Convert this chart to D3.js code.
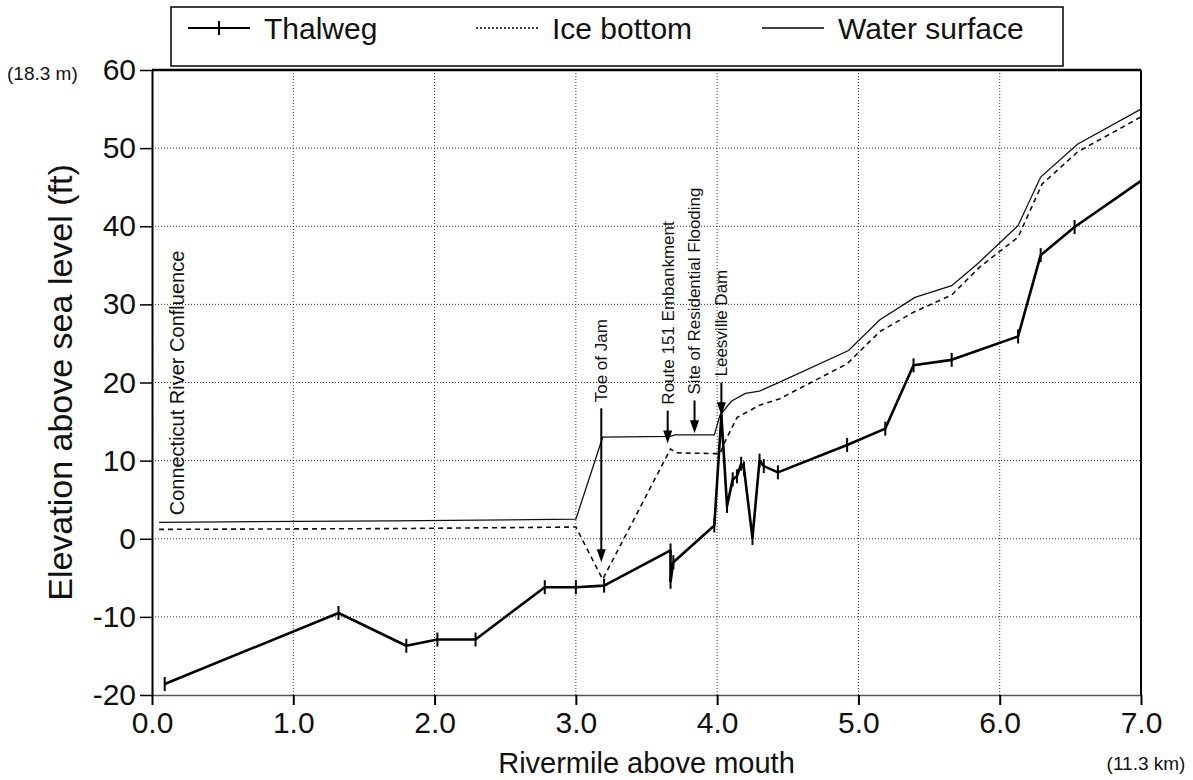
<!DOCTYPE html>
<html>
<head>
<meta charset="utf-8">
<script src="https://cdn.jsdelivr.net/npm/d3@7"></script>
<style>
  body { margin: 0; background: #fff; }
  svg text { font-family: "Liberation Sans", Arial, sans-serif; fill: #111; }
</style>
</head>
<body>
<div id="myDataVis"><svg></svg></div>
<script>
// ---- data (rivermile, elevation ft) ----
const thalwegMile = [0.09, 1.32, 1.80, 2.02, 2.29, 2.78, 3.00, 3.20, 3.67, 3.67, 3.69, 3.98, 4.03, 4.07, 4.11, 4.14, 4.17, 4.19, 4.25, 4.30, 4.33, 4.43, 4.92, 5.19, 5.39, 5.66, 6.13, 6.29, 6.53, 7.00];
const thalwegFt   = [-18.6, -9.5, -13.7, -12.9, -12.9, -6.2, -6.2, -6.0, -1.5, -5.5, -3.0, 1.7, 15.8, 4.2, 7.6, 8.0, 9.6, 9.0, 0.1, 10.0, 9.3, 8.5, 12.0, 14.1, 22.2, 22.9, 25.9, 36.3, 39.9, 45.8];

const iceMile = [0.05, 1.70, 3.00, 3.19, 3.67, 3.71, 3.98, 4.02, 4.06, 4.14, 4.30, 4.44, 4.92, 5.15, 5.39, 5.66, 5.86, 6.13, 6.30, 6.55, 7.00];
const iceFt   = [1.2, 1.3, 1.5, -5.2, 11.5, 11.0, 10.9, 10.9, 12.6, 15.5, 17.1, 17.9, 22.4, 26.5, 29.0, 31.2, 34.8, 38.6, 45.4, 49.5, 54.0];

const waterMile = [0.05, 1.70, 3.00, 3.19, 3.67, 3.70, 3.98, 4.02, 4.10, 4.20, 4.30, 4.45, 4.93, 5.15, 5.40, 5.66, 5.85, 6.13, 6.29, 6.55, 7.00];
const waterFt   = [2.1, 2.3, 2.5, 13.0, 13.1, 13.3, 13.3, 15.8, 17.6, 18.6, 18.9, 20.1, 24.1, 28.0, 30.9, 32.4, 35.3, 40.1, 46.3, 50.5, 55.0];

const xTicks = [0, 1, 2, 3, 4, 5, 6, 7];
const yTicks = [-20, -10, 0, 10, 20, 30, 40, 50, 60];

// annotations: label, rivermile, arrow tip elevation, arrow tail elevation
const noteLabels = ['Toe of Jam', 'Route 151 Embankment', 'Site of Residential Flooding', 'Leesville Dam'];
const noteMile   = [3.18, 3.65, 3.84, 4.03];
const noteTipFt  = [-3.0, 12.2, 13.5, 15.8];
const noteTailFt = [16.7, 16.4, 17.7, 20.0];

const legendLabels = ['Thalweg', 'Ice bottom', 'Water surface'];

// ---- layout ----
const margin = {top: 70, right: 52, bottom: 85, left: 152};
const width = 1193 - margin.left - margin.right;
const height = 780 - margin.top - margin.bottom;

const svgRoot = d3.select('#myDataVis').select('svg')
    .attr('width', 1193)
    .attr('height', 780);

const svg = svgRoot.append('g')
    .attr('transform', `translate(${margin.left},${margin.top})`);

const x = d3.scaleLinear().domain([0, 7]).range([0, width]);
const y = d3.scaleLinear().domain([-20, 60]).range([height, 0]);

// grid
svg.append('g').selectAll('line')
    .data(xTicks.slice(1, -1))
    .join('line')
    .attr('x1', d => x(d)).attr('x2', d => x(d))
    .attr('y1', 0).attr('y2', height)
    .attr('stroke', '#333').attr('stroke-width', 1)
    .attr('stroke-dasharray', '1,2');

svg.append('g').selectAll('line')
    .data(yTicks.slice(1, -1))
    .join('line')
    .attr('x1', 0).attr('x2', width)
    .attr('y1', d => y(d)).attr('y2', d => y(d))
    .attr('stroke', '#333').attr('stroke-width', 1)
    .attr('stroke-dasharray', '1,2');

// axes
const xAxis = svg.append('g')
    .attr('transform', `translate(0,${height})`)
    .call(d3.axisBottom(x).tickValues(xTicks).tickFormat(d3.format('.1f'))
        .tickSize(10).tickPadding(7).tickSizeOuter(0));
xAxis.select('.domain').attr('stroke', '#555').attr('stroke-width', 1.5);
xAxis.selectAll('.tick line').attr('stroke', '#000').attr('stroke-width', 2);
xAxis.selectAll('text').attr('font-size', 30).attr('fill', '#111');

const yAxis = svg.append('g')
    .call(d3.axisLeft(y).tickValues(yTicks).tickFormat(d => String(d))
        .tickSize(12).tickPadding(4).tickSizeOuter(0));
yAxis.select('.domain').attr('stroke', '#000').attr('stroke-width', 2);
yAxis.selectAll('.tick line').attr('stroke', '#000').attr('stroke-width', 1.5);
yAxis.selectAll('text').attr('font-size', 30).attr('fill', '#111');

// top and right frame
svg.append('line').attr('x1', 0).attr('x2', width).attr('y1', 0).attr('y2', 0)
    .attr('stroke', '#000').attr('stroke-width', 2.5);
svg.append('line').attr('x1', width).attr('x2', width).attr('y1', 0).attr('y2', height)
    .attr('stroke', '#000').attr('stroke-width', 2);

// axis titles
svg.append('text')
    .attr('x', width / 2)
    .attr('y', height + 78)
    .attr('text-anchor', 'middle')
    .attr('font-size', 29)
    .text('Rivermile above mouth');

svg.append('text')
    .attr('transform', 'rotate(-90)')
    .attr('x', -height / 2)
    .attr('y', 60 - margin.left)
    .attr('dy', '0.35em')
    .attr('text-anchor', 'middle')
    .attr('font-size', 34)
    .text('Elevation above sea level (ft)');

svg.append('text')
    .attr('x', 7 - margin.left)
    .attr('y', 10)
    .attr('font-size', 19)
    .text('(18.3 m)');

svg.append('text')
    .attr('x', x(7) + 5)
    .attr('y', height + 75)
    .attr('text-anchor', 'middle')
    .attr('font-size', 19)
    .text('(11.3 km)');

// series
const line = d3.line().x(d => x(d[0])).y(d => y(d[1]));
const thalweg = d3.zip(thalwegMile, thalwegFt);
const ice = d3.zip(iceMile, iceFt);
const water = d3.zip(waterMile, waterFt);

svg.append('path').datum(water)
    .attr('d', line).attr('fill', 'none')
    .attr('stroke', '#111').attr('stroke-width', 1.3);

svg.append('path').datum(ice)
    .attr('d', line).attr('fill', 'none')
    .attr('stroke', '#111').attr('stroke-width', 1.6)
    .attr('stroke-dasharray', '5,4');

svg.append('path').datum(thalweg)
    .attr('d', line).attr('fill', 'none')
    .attr('stroke', '#000').attr('stroke-width', 2.6)
    .attr('stroke-linejoin', 'round');

svg.append('g').selectAll('line')
    .data(thalweg)
    .join('line')
    .attr('x1', d => x(d[0])).attr('x2', d => x(d[0]))
    .attr('y1', d => y(d[1]) - 7).attr('y2', d => y(d[1]) + 7)
    .attr('stroke', '#000').attr('stroke-width', 2);

// annotations
svg.append('text')
    .attr('transform', `translate(${x(0.18)},${y(3.0)}) rotate(-90)`)
    .attr('dy', '0.35em')
    .attr('font-size', 20)
    .text('Connecticut River Confluence');

const notes = noteLabels.map((t, i) => ({t, m: noteMile[i], tip: noteTipFt[i], tail: noteTailFt[i]}));
const note = svg.append('g').selectAll('g')
    .data(notes)
    .join('g');

note.append('line')
    .attr('x1', d => x(d.m)).attr('x2', d => x(d.m))
    .attr('y1', d => y(d.tail)).attr('y2', d => y(d.tip) - 10)
    .attr('stroke', '#000').attr('stroke-width', 2);

note.append('path')
    .attr('d', d => {
        const px = x(d.m), py = y(d.tip);
        return `M${px},${py} L${px - 4.5},${py - 13} L${px + 4.5},${py - 13} Z`;
    })
    .attr('fill', '#000');

note.append('text')
    .attr('transform', d => `translate(${x(d.m)},${y(d.tail) - 6}) rotate(-90)`)
    .attr('dy', '0.35em')
    .attr('font-size', 17)
    .text(d => d.t);

// legend
const legend = svgRoot.append('g').attr('class', 'legend');
legend.append('rect')
    .attr('x', 171).attr('y', 7)
    .attr('width', 892).attr('height', 59)
    .attr('fill', '#fff').attr('stroke', '#000').attr('stroke-width', 1.5);

const legX = [188, 476, 762];
legendLabels.forEach((lab, i) => {
    const g = legend.append('g').attr('transform', `translate(${legX[i]},28)`);
    g.append('line')
        .attr('x1', 0).attr('x2', 62).attr('y1', 0).attr('y2', 0)
        .attr('stroke', '#000')
        .attr('stroke-width', i === 0 ? 2 : 1.3)
        .attr('stroke-dasharray', i === 1 ? '2,2' : null);
    if (i === 0) {
        g.append('line').attr('x1', 31).attr('x2', 31).attr('y1', -7).attr('y2', 7)
            .attr('stroke', '#000').attr('stroke-width', 2);
    }
    g.append('text')
        .attr('x', 76).attr('y', 0)
        .attr('dy', '0.35em')
        .attr('font-size', 30)
        .text(lab);
});
</script>
</body>
</html>
